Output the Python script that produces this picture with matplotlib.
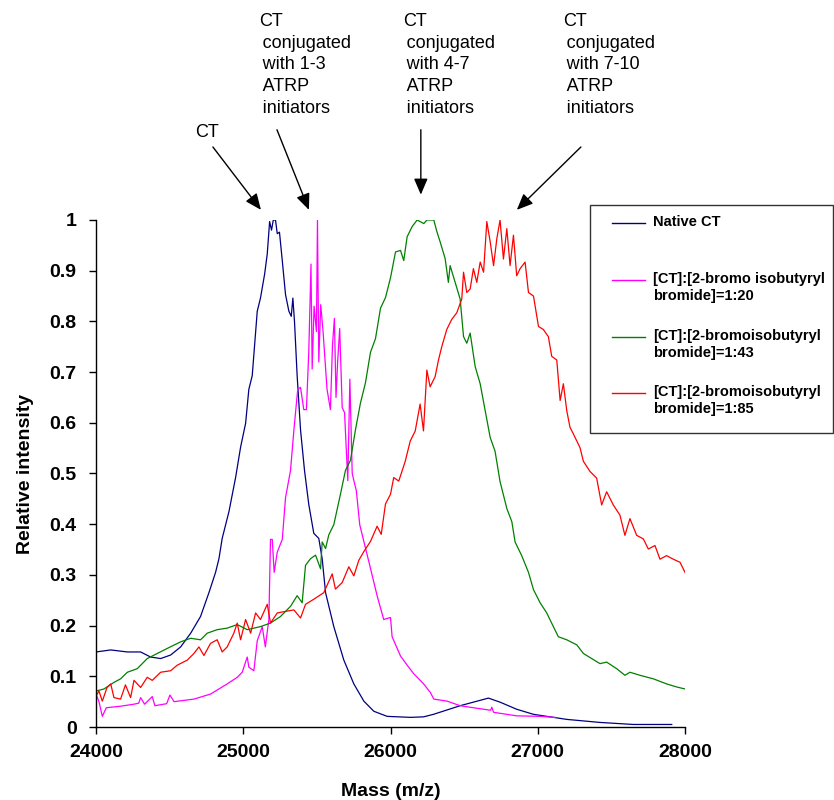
import matplotlib
matplotlib.use("Agg")
import matplotlib.pyplot as plt
from matplotlib.lines import Line2D
from matplotlib.patches import Rectangle
from matplotlib.ticker import FuncFormatter

plt.rcParams['font.family'] = ['Liberation Sans', 'DejaVu Sans']

# --- data ---
native_mass = [24000, 24100, 24213, 24303, 24371, 24439, 24507, 24575, 24643, 24710,
               24767, 24812, 24835, 24857, 24903, 24948, 24982, 25016, 25038, 25061,
               25095, 25117, 25145, 25163, 25179, 25192, 25204, 25219, 25231, 25246,
               25265, 25287, 25310, 25326, 25337, 25348, 25366, 25389, 25416, 25445,
               25479, 25513, 25536, 25559, 25615, 25683, 25751, 25819, 25887, 25977,
               26136, 26224, 26292, 26473, 26665, 26744, 26857, 26971, 27197, 27423,
               27649, 27910]
native_int = [0.148, 0.152, 0.148, 0.148, 0.138, 0.135, 0.142, 0.158, 0.185, 0.218,
              0.265, 0.305, 0.332, 0.372, 0.425, 0.492, 0.552, 0.599, 0.666, 0.693,
              0.820, 0.846, 0.893, 0.933, 0.997, 0.980, 1.000, 1.000, 0.973, 0.976,
              0.920, 0.853, 0.820, 0.810, 0.846, 0.800, 0.693, 0.586, 0.506, 0.439,
              0.382, 0.372, 0.332, 0.265, 0.198, 0.132, 0.085, 0.051, 0.031, 0.021,
              0.019, 0.020, 0.025, 0.042, 0.057, 0.049, 0.035, 0.025, 0.015, 0.009,
              0.005, 0.005]

r20_mass = [24000, 24020, 24043, 24070, 24167, 24258, 24290, 24303, 24330, 24382,
            24400, 24480, 24502, 24530, 24665, 24778, 24891, 24959, 24993, 25027,
            25038, 25072, 25095, 25129, 25150, 25174, 25185, 25197, 25210, 25231,
            25265, 25287, 25321, 25344, 25370, 25389, 25411, 25429, 25445, 25460,
            25468, 25481, 25497, 25504, 25513, 25526, 25542, 25569, 25592, 25606,
            25619, 25630, 25641, 25655, 25672, 25688, 25699, 25710, 25724, 25740,
            25756, 25768, 25791, 25825, 25859, 25909, 25954, 26000, 26011, 26068,
            26113, 26158, 26225, 26271, 26294, 26385, 26473, 26586, 26680, 26688,
            26700, 26857, 27016, 27118]
r20_int = [0.065, 0.050, 0.021, 0.038, 0.041, 0.045, 0.047, 0.058, 0.045, 0.060,
           0.042, 0.046, 0.063, 0.050, 0.055, 0.065, 0.085, 0.098, 0.108, 0.138,
           0.118, 0.111, 0.170, 0.198, 0.158, 0.212, 0.370, 0.370, 0.305, 0.345,
           0.370, 0.452, 0.506, 0.586, 0.666, 0.670, 0.626, 0.626, 0.740, 0.913,
           0.706, 0.830, 0.780, 1.000, 0.720, 0.833, 0.780, 0.666, 0.626, 0.753,
           0.806, 0.650, 0.720, 0.786, 0.630, 0.620, 0.552, 0.486, 0.686, 0.500,
           0.480, 0.466, 0.399, 0.359, 0.319, 0.259, 0.212, 0.216, 0.178, 0.140,
           0.122, 0.105, 0.085, 0.068, 0.055, 0.051, 0.042, 0.037, 0.033, 0.039,
           0.029, 0.022, 0.021, 0.019]

r43_mass = [24000, 24054, 24122, 24167, 24213, 24280, 24348, 24416, 24484, 24575,
            24643, 24710, 24755, 24823, 24891, 24959, 25027, 25117, 25185, 25253,
            25321, 25366, 25400, 25423, 25457, 25491, 25525, 25536, 25559, 25581,
            25615, 25660, 25694, 25728, 25762, 25796, 25830, 25864, 25898, 25932,
            25966, 26000, 26034, 26068, 26090, 26113, 26147, 26181, 26226, 26247,
            26294, 26315, 26337, 26371, 26393, 26405, 26439, 26473, 26496, 26518,
            26541, 26575, 26609, 26643, 26677, 26710, 26744, 26790, 26824, 26846,
            26891, 26937, 26971, 27016, 27061, 27106, 27140, 27197, 27265, 27310,
            27366, 27423, 27468, 27536, 27592, 27626, 27694, 27785, 27830, 27875,
            27943, 28000]
r43_int = [0.071, 0.075, 0.088, 0.095, 0.108, 0.115, 0.135, 0.145, 0.155, 0.168,
           0.175, 0.172, 0.185, 0.192, 0.195, 0.202, 0.192, 0.198, 0.205, 0.218,
           0.238, 0.259, 0.245, 0.319, 0.332, 0.339, 0.312, 0.365, 0.352, 0.379,
           0.399, 0.459, 0.506, 0.526, 0.586, 0.639, 0.679, 0.739, 0.766, 0.826,
           0.847, 0.886, 0.937, 0.940, 0.920, 0.967, 0.987, 1.000, 0.993, 1.000,
           1.000, 0.977, 0.957, 0.924, 0.877, 0.910, 0.877, 0.844, 0.770, 0.757,
           0.777, 0.711, 0.677, 0.624, 0.571, 0.544, 0.484, 0.431, 0.405, 0.365,
           0.338, 0.305, 0.271, 0.245, 0.225, 0.198, 0.178, 0.172, 0.162, 0.145,
           0.135, 0.125, 0.128, 0.115, 0.102, 0.108, 0.102, 0.095, 0.090, 0.085,
           0.079, 0.075]

r85_mass = [24000, 24020, 24043, 24075, 24100, 24122, 24167, 24200, 24235, 24258,
            24303, 24348, 24382, 24439, 24507, 24552, 24620, 24665, 24699, 24733,
            24778, 24823, 24857, 24891, 24936, 24959, 24982, 25016, 25050, 25084,
            25117, 25163, 25185, 25231, 25287, 25344, 25389, 25423, 25479, 25547,
            25604, 25626, 25672, 25717, 25751, 25785, 25819, 25864, 25909, 25937,
            25966, 26000, 26022, 26056, 26100, 26134, 26168, 26201, 26224, 26247,
            26269, 26303, 26326, 26348, 26382, 26416, 26450, 26484, 26496, 26518,
            26541, 26563, 26586, 26609, 26632, 26654, 26677, 26700, 26722, 26744,
            26767, 26790, 26812, 26835, 26857, 26880, 26914, 26937, 26971, 27005,
            27038, 27072, 27095, 27129, 27152, 27174, 27197, 27219, 27242, 27287,
            27310, 27355, 27400, 27434, 27468, 27513, 27558, 27592, 27626, 27672,
            27717, 27751, 27796, 27830, 27875, 27920, 27966, 28000]
r85_int = [0.061, 0.071, 0.051, 0.078, 0.085, 0.058, 0.055, 0.083, 0.058, 0.092,
           0.078, 0.098, 0.092, 0.108, 0.111, 0.122, 0.132, 0.145, 0.158, 0.141,
           0.165, 0.172, 0.148, 0.158, 0.185, 0.205, 0.172, 0.212, 0.185, 0.225,
           0.212, 0.242, 0.205, 0.225, 0.228, 0.231, 0.215, 0.242, 0.252, 0.265,
           0.302, 0.272, 0.285, 0.316, 0.298, 0.329, 0.346, 0.366, 0.396, 0.380,
           0.440, 0.459, 0.492, 0.485, 0.524, 0.564, 0.584, 0.637, 0.584, 0.704,
           0.671, 0.691, 0.724, 0.750, 0.784, 0.804, 0.817, 0.844, 0.897, 0.857,
           0.864, 0.904, 0.877, 0.917, 0.897, 0.997, 0.957, 0.910, 0.963, 1.000,
           0.923, 0.983, 0.910, 0.970, 0.890, 0.904, 0.917, 0.857, 0.850, 0.790,
           0.784, 0.770, 0.731, 0.724, 0.644, 0.677, 0.624, 0.591, 0.578, 0.551,
           0.524, 0.504, 0.491, 0.438, 0.464, 0.438, 0.418, 0.378, 0.411, 0.378,
           0.371, 0.351, 0.358, 0.331, 0.338, 0.331, 0.325, 0.305]

series_labels = ["Native CT",
                 "[CT]:[2-bromo isobutyryl\nbromide]=1:20",
                 "[CT]:[2-bromoisobutyryl\nbromide]=1:43",
                 "[CT]:[2-bromoisobutyryl\nbromide]=1:85"]
series_colors = ["#000080", "#FF00FF", "#008000", "#FF0000"]

peak_labels = ["CT",
               "CT\n\u2009conjugated\n\u2009with 1-3\n\u2009ATRP\n\u2009initiators",
               "CT\n\u2009conjugated\n\u2009with 4-7\n\u2009ATRP\n\u2009initiators",
               "CT\n\u2009conjugated\n\u2009with 7-10\n\u2009ATRP\n\u2009initiators"]
arrow_tips = [(25120, 1.02), (25446, 1.02), (26206, 1.05), (26858, 1.02)]
arrow_tails = [(24794, 1.144), (25229, 1.178), (26206, 1.178), (27293, 1.144)]

fig = plt.figure(figsize=(8.34, 8.0), dpi=100)
ax = fig.add_axes([96 / 834, 73 / 800, 589 / 834, 507 / 800])

series = [(native_mass, native_int), (r20_mass, r20_int),
          (r43_mass, r43_int), (r85_mass, r85_int)]
for (m, v), c in zip(series, series_colors):
    ax.plot(m, v, color=c, lw=0.9)

ax.set_xlim(24000, 28000)
ax.set_ylim(0, 1)
ax.set_xticks([24000, 25000, 26000, 27000, 28000])
ax.set_yticks([i / 10 for i in range(11)])
ax.yaxis.set_major_formatter(FuncFormatter(lambda v, p: f"{v:g}"))
for s in ['top', 'right']:
    ax.spines[s].set_visible(False)
for s in ['left', 'bottom']:
    ax.spines[s].set_linewidth(1.0)
ax.tick_params(direction='out', length=5, width=1.0, labelsize=14)
ax.tick_params(axis='x', pad=7)
ax.tick_params(axis='y', pad=9)
for lab in ax.get_xticklabels() + ax.get_yticklabels():
    lab.set_fontweight('bold')
ax.set_xlabel("Mass (m/z)", fontsize=14, fontweight='bold', labelpad=16)
ax.set_ylabel("Relative intensity", fontsize=14, fontweight='bold', labelpad=11)

# arrows and peak captions
for tip, tail in zip(arrow_tips, arrow_tails):
    ax.annotate("", xy=tip, xytext=tail, annotation_clip=False,
                arrowprops=dict(arrowstyle="-|>,head_length=0.7,head_width=0.3",
                                color="black", lw=1.0, mutation_scale=14,
                                shrinkA=0, shrinkB=0))
caption_pos = [(195, 133), (259, 22), (403, 22), (563, 22)]
for txt, (px, py) in zip(peak_labels, caption_pos):
    fig.text(px / 834, 1 - (py - 9) / 800, txt, fontsize=13, ha='left', va='top',
             linespacing=1.36)

# legend box drawn like the spreadsheet one
fig.patches.append(Rectangle((590 / 834, 1 - 433 / 800), 243 / 834, 228 / 800,
                             transform=fig.transFigure, fill=False,
                             edgecolor='#333333', lw=1.0))
legend_rows = [223, 280, 337, 393]
for lab, c, y in zip(series_labels, series_colors, legend_rows):
    fig.add_artist(Line2D([612 / 834, 645 / 834], [1 - y / 800, 1 - y / 800],
                          transform=fig.transFigure, color=c, lw=1.0))
    fig.text(653 / 834, 1 - (y - 8) / 800, lab, fontsize=10.5, fontweight='bold',
             ha='left', va='top', linespacing=1.3)

fig.savefig("out.png", dpi=100)
